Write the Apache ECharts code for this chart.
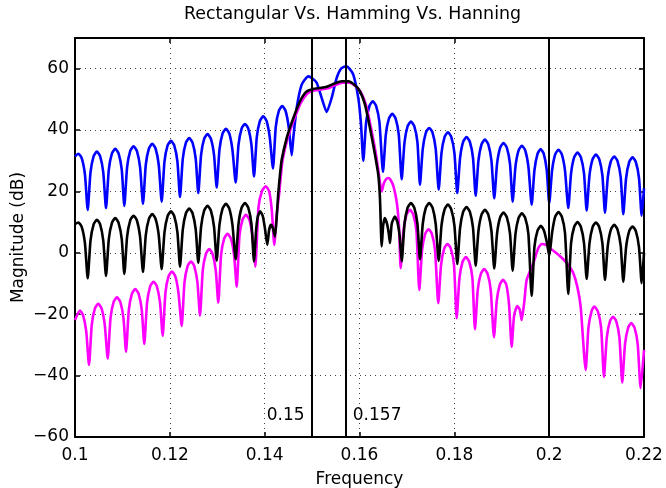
<!DOCTYPE html>
<html>
<head>
<meta charset="utf-8">
<script src="https://cdn.jsdelivr.net/npm/echarts@6/dist/echarts.min.js"></script>
<style>html,body{margin:0;padding:0;background:#fff;}#chart{width:666px;height:488px;}</style>
</head>
<body>
<div id="chart"></div>
<script>
// ---- data (frequency, magnitude dB) ----
const rectangular = [
[0.1000,31.4],[0.1007,32.3],[0.10143,30.8],[0.10210,25.5],[0.10268,14.0],
[0.10327,26.2],[0.10393,31.5],[0.10461,33.0],[0.10530,31.5],[0.10596,26.2],[0.10654,14.6],
[0.10713,27.1],[0.10779,32.4],[0.10849,33.9],[0.10919,32.4],[0.10986,27.1],[0.11040,15.3],
[0.11099,27.9],[0.11165,33.2],[0.11235,34.7],[0.11305,33.2],[0.11372,27.9],[0.11434,16.0],
[0.11493,28.7],[0.11559,34.0],[0.11629,35.5],[0.11699,34.0],[0.11766,28.7],[0.11828,16.7],
[0.11887,29.7],[0.11953,35.0],[0.12023,36.5],[0.12093,35.0],[0.12160,29.7],[0.12214,18.2],
[0.12273,30.6],[0.12339,35.9],[0.12409,37.4],[0.12479,35.9],[0.12546,30.6],[0.12600,19.5],
[0.12659,31.9],[0.12725,37.2],[0.12795,38.7],[0.12865,37.2],[0.12932,31.9],[0.12988,21.3],
[0.13047,33.6],[0.13113,38.9],[0.13183,40.4],[0.13253,38.9],[0.13320,33.6],[0.13389,22.9],
[0.13448,35.2],[0.13514,40.5],[0.13584,42.0],[0.13654,40.5],[0.13721,35.2],[0.13775,24.9],
[0.13834,37.7],[0.13900,43.0],[0.13970,44.5],[0.14040,43.0],[0.14107,37.7],[0.14175,27.5],
[0.14234,41.0],[0.14300,46.3],[0.14370,47.8],[0.14440,46.3],[0.14507,41.0],[0.14570,31.8],
[0.14604,37.5],[0.14675,47.2],[0.14781,54.8],[0.14920,57.5],[0.15008,56.8],[0.15097,55.4],
[0.15202,50.5],[0.15308,45.9],[0.15413,50.5],[0.15519,57.0],[0.15609,60.0],[0.15715,60.8],
[0.15777,60.2],[0.15869,58.1],[0.15974,50.5],[0.16031,42.0],[0.16080,30.0],
[0.16140,42.6],[0.16210,47.9],[0.16280,49.4],[0.16350,47.9],[0.16420,42.6],[0.16495,26.4],
[0.16555,38.5],[0.16621,43.8],[0.16691,45.3],[0.16761,43.8],[0.16828,38.5],[0.16890,24.0],
[0.16949,36.0],[0.17015,41.3],[0.17085,42.8],[0.17155,41.3],[0.17222,36.0],[0.17275,22.2],
[0.17334,33.9],[0.17400,39.2],[0.17470,40.7],[0.17540,39.2],[0.17607,33.9],[0.17670,20.6],
[0.17729,32.5],[0.17795,37.8],[0.17865,39.3],[0.17935,37.8],[0.18002,32.5],[0.18062,19.5],
[0.18121,30.9],[0.18187,36.2],[0.18257,37.7],[0.18327,36.2],[0.18394,30.9],[0.18450,18.6],
[0.18509,30.1],[0.18575,35.4],[0.18645,36.9],[0.18715,35.4],[0.18782,30.1],[0.18842,17.8],
[0.18901,29.0],[0.18967,34.3],[0.19037,35.8],[0.19107,34.3],[0.19174,29.0],[0.19230,16.7],
[0.19289,28.1],[0.19355,33.4],[0.19425,34.9],[0.19495,33.4],[0.19562,28.1],[0.19631,15.7],
[0.19690,27.0],[0.19756,32.3],[0.19820,33.8],[0.19885,32.3],[0.19948,27.0],[0.20002,16.2],
[0.20061,26.8],[0.20127,32.1],[0.20197,33.6],[0.20267,32.1],[0.20334,26.8],[0.20403,14.6],
[0.20462,25.9],[0.20528,31.2],[0.20598,32.7],[0.20668,31.2],[0.20735,25.9],[0.20791,13.8],
[0.20850,25.2],[0.20916,30.5],[0.20986,32.0],[0.21056,30.5],[0.21123,25.2],[0.21177,13.1],
[0.21236,24.6],[0.21302,29.9],[0.21372,31.4],[0.21442,29.9],[0.21509,24.6],[0.21563,12.6],
[0.21622,24.3],[0.21688,29.6],[0.21758,31.1],[0.21828,29.6],[0.21895,24.3],[0.21951,12.1],
[0.22000,21.0]
];
const hamming = [
[0.1000,9.4],[0.1007,9.9],[0.10143,8.4],[0.10210,3.1],[0.10268,-8.3],
[0.10327,4.0],[0.10393,9.3],[0.10461,10.8],[0.10530,9.3],[0.10596,4.0],[0.10654,-7.5],
[0.10713,4.5],[0.10779,9.8],[0.10849,11.3],[0.10919,9.8],[0.10986,4.5],[0.11040,-6.9],
[0.11099,5.3],[0.11165,10.6],[0.11235,12.1],[0.11305,10.6],[0.11372,5.3],[0.11434,-6.2],
[0.11493,5.8],[0.11559,11.1],[0.11629,12.6],[0.11699,11.1],[0.11766,5.8],[0.11828,-5.3],
[0.11887,6.7],[0.11953,12.0],[0.12023,13.5],[0.12093,12.0],[0.12160,6.7],[0.12214,-4.5],
[0.12273,7.6],[0.12339,12.9],[0.12409,14.4],[0.12479,12.9],[0.12546,7.6],[0.12600,-3.2],
[0.12659,8.5],[0.12725,13.8],[0.12795,15.3],[0.12865,13.8],[0.12932,8.5],[0.12988,-2.5],
[0.13047,9.2],[0.13113,14.5],[0.13183,16.0],[0.13253,14.5],[0.13320,9.2],[0.13389,-2.1],
[0.13448,9.4],[0.13514,14.7],[0.13584,16.2],[0.13654,14.7],[0.13721,9.4],[0.13775,-2.8],
[0.13820,7.5],[0.13858,12.0],[0.13905,13.5],[0.13960,12.0],[0.14010,7.5],[0.14055,2.6],
[0.14095,7.5],[0.14133,9.1],[0.14175,8.0],[0.14218,5.3],
[0.14260,13.0],[0.14287,19.5],[0.14323,25.4],[0.14359,30.3],[0.14464,37.4],[0.14604,43.9],
[0.14745,49.4],[0.14886,52.6],[0.15025,53.4],[0.15167,53.7],[0.15308,54.1],[0.15447,55.0],
[0.15624,55.9],[0.15763,55.9],[0.15905,54.6],[0.16010,52.6],[0.16116,48.3],[0.16221,40.7],
[0.16326,32.0],[0.16396,25.4],[0.16431,18.0],[0.16468,2.1],
[0.16500,9.0],[0.16537,11.3],[0.16580,9.5],[0.16615,6.5],[0.16643,3.2],
[0.16680,9.5],[0.16748,11.8],[0.16800,10.0],[0.16850,5.0],[0.16890,-2.8],
[0.16949,9.4],[0.17015,14.7],[0.17085,16.2],[0.17155,14.7],[0.17222,9.4],[0.17275,-2.1],
[0.17334,9.4],[0.17400,14.7],[0.17470,16.2],[0.17540,14.7],[0.17607,9.4],[0.17670,-2.6],
[0.17729,8.9],[0.17795,14.2],[0.17865,15.7],[0.17935,14.2],[0.18002,8.9],[0.18062,-3.6],
[0.18121,8.1],[0.18187,13.4],[0.18257,14.9],[0.18327,13.4],[0.18394,8.1],[0.18450,-4.2],
[0.18509,7.2],[0.18575,12.5],[0.18645,14.0],[0.18715,12.5],[0.18782,7.2],[0.18842,-5.1],
[0.18901,6.3],[0.18967,11.6],[0.19037,13.1],[0.19107,11.6],[0.19174,6.3],[0.19230,-5.8],
[0.19289,6.1],[0.19355,11.4],[0.19425,12.9],[0.19495,11.4],[0.19562,6.1],[0.19631,-14.0],
[0.19690,2.0],[0.19756,7.3],[0.19826,8.8],[0.19890,7.3],[0.19950,3.5],[0.20002,-1.0],
[0.20061,6.5],[0.20127,11.8],[0.20197,13.3],[0.20267,11.8],[0.20334,6.5],[0.20403,-13.4],
[0.20462,3.2],[0.20528,8.5],[0.20598,10.0],[0.20668,8.5],[0.20735,3.2],[0.20791,-8.5],
[0.20850,3.1],[0.20916,8.4],[0.20986,9.9],[0.21056,8.4],[0.21123,3.1],[0.21177,-8.8],
[0.21236,2.3],[0.21302,7.6],[0.21372,9.1],[0.21442,7.6],[0.21509,2.3],[0.21563,-9.4],
[0.21622,1.8],[0.21688,7.1],[0.21758,8.6],[0.21828,7.1],[0.21895,1.8],[0.21951,-9.9],
[0.22000,0.0]
];
const hanning = [
[0.1000,-21.9],[0.10105,-18.8],[0.10170,-20.3],[0.10237,-25.6],[0.10295,-36.5],
[0.10354,-23.4],[0.10420,-18.1],[0.10490,-16.6],[0.10560,-18.1],[0.10627,-23.4],[0.10690,-34.4],
[0.10749,-21.3],[0.10815,-16.0],[0.10885,-14.5],[0.10955,-16.0],[0.11022,-21.3],[0.11076,-32.2],
[0.11135,-18.6],[0.11201,-13.3],[0.11271,-11.8],[0.11341,-13.3],[0.11408,-18.6],[0.11461,-29.7],
[0.11520,-16.2],[0.11586,-10.9],[0.11656,-9.4],[0.11726,-10.9],[0.11793,-16.2],[0.11849,-27.0],
[0.11908,-12.9],[0.11974,-7.6],[0.12044,-6.1],[0.12114,-7.6],[0.12181,-12.9],[0.12250,-23.8],
[0.12309,-9.6],[0.12375,-4.3],[0.12445,-2.8],[0.12515,-4.3],[0.12582,-9.6],[0.12636,-20.4],
[0.12695,-5.6],[0.12761,-0.3],[0.12831,1.2],[0.12901,-0.3],[0.12968,-5.6],[0.13022,-16.2],
[0.13081,-0.6],[0.13147,4.7],[0.13217,6.2],[0.13287,4.7],[0.13354,-0.6],[0.13410,-11.0],
[0.13469,5.6],[0.13535,10.9],[0.13605,12.4],[0.13675,10.9],[0.13742,5.6],[0.13802,-4.5],
[0.13870,14.9],[0.13945,20.2],[0.14025,21.7],[0.14095,20.0],[0.14150,14.0],[0.14203,2.6],
[0.14250,12.0],[0.14307,19.5],[0.14343,25.4],[0.14379,30.3],[0.14484,37.4],[0.14624,43.6],
[0.14765,48.9],[0.14906,52.0],[0.15045,52.9],[0.15187,53.2],[0.15328,53.6],[0.15467,54.5],
[0.15644,55.4],[0.15783,55.4],[0.15925,54.2],[0.16030,52.3],[0.16136,48.2],[0.16241,40.8],
[0.16346,32.2],[0.16400,26.5],[0.16440,22.0],[0.16468,20.0],
[0.16510,22.5],[0.16560,24.0],[0.16607,24.4],[0.16650,23.9],[0.16720,21.5],[0.16790,16.0],[0.16835,8.0],[0.16868,-5.0],
[0.16927,7.2],[0.16993,12.5],[0.17065,14.0],[0.17133,12.5],[0.17200,7.2],[0.17261,-12.1],
[0.17320,0.9],[0.17386,6.2],[0.17455,7.7],[0.17526,6.2],[0.17593,0.9],[0.17661,-16.4],
[0.17720,-3.9],[0.17786,1.4],[0.17856,2.9],[0.17926,1.4],[0.17993,-3.9],[0.18049,-21.3],
[0.18108,-8.2],[0.18174,-2.9],[0.18244,-1.4],[0.18314,-2.9],[0.18381,-8.2],[0.18435,-24.9],
[0.18494,-12.1],[0.18560,-6.8],[0.18630,-5.3],[0.18700,-6.8],[0.18767,-12.1],[0.18836,-27.5],
[0.18895,-15.6],[0.18961,-10.3],[0.19025,-8.8],[0.19095,-10.3],[0.19155,-17.0],[0.19209,-30.6],
[0.19260,-20.5],[0.19327,-17.3],[0.19380,-18.5],[0.19420,-21.9],[0.19475,-16.0],[0.19526,-8.8],
[0.19665,-3.4],[0.19770,1.5],[0.19842,2.9],[0.19932,2.6],[0.20017,1.5],[0.20158,-0.1],
[0.20298,-2.1],[0.20403,-3.9],[0.20508,-6.6],[0.20593,-11.0],[0.20664,-17.5],[0.20770,-38.2],
[0.20829,-24.3],[0.20895,-19.0],[0.20950,-17.5],[0.21025,-19.0],[0.21095,-24.3],[0.21156,-40.4],
[0.21215,-27.6],[0.21281,-22.3],[0.21345,-20.8],[0.21415,-22.3],[0.21482,-27.6],[0.21541,-42.2],
[0.21600,-29.7],[0.21666,-24.4],[0.21730,-22.9],[0.21800,-24.4],[0.21867,-29.7],[0.21929,-44.1],
[0.22000,-31.6]
];
const markerFreqs = [0.15, 0.157, 0.2];
const markerTexts = [
  {text: '0.15', f: 0.15, db: -53, side: 'left'},
  {text: '0.157', f: 0.157, db: -53, side: 'right'}
];
const xTickRange = {min: 0.1, max: 0.22, step: 0.02};
const yTickRange = {min: -60, max: 70, step: 20};

// ---- chart ----
const FONT = 'DejaVu Sans';
const FS = 17;
const chart = echarts.init(document.getElementById('chart'), null, {renderer: 'canvas'});
const fmtX = v => String(Number(v.toFixed(3)));
const fmtY = v => (v === 70 ? '' : (v < 0 ? '\u2212' + Math.abs(v) : String(v)));
const axisLine = {show: true, onZero: false, lineStyle: {color: '#000', width: 2}};
const tick = {show: true, inside: true, length: 5, lineStyle: {color: '#000', width: 1.5}};
const grid = {show: true, lineStyle: {color: '#444', width: 1, type: [1, 4]}};
const lab = {color: '#000', fontSize: FS, fontFamily: FONT};
const SMOOTH = 0.2;

chart.setOption({
  animation: false,
  backgroundColor: '#fff',
  graphic: [{
    type: 'text', left: 184, top: 6, silent: true,
    style: {text: 'Rectangular Vs. Hamming Vs. Hanning', fill: '#000', fontSize: 17.4, fontFamily: FONT}
  }],
  grid: {left: 75, right: 22, top: 38, bottom: 51, containLabel: false, outerBoundsMode: 'none'},
  xAxis: [
    {type: 'value', position: 'bottom', min: xTickRange.min, max: xTickRange.max, interval: xTickRange.step,
     axisLine: axisLine, axisTick: tick, splitLine: grid,
     axisLabel: Object.assign({formatter: fmtX, margin: 10}, lab),
     name: 'Frequency', nameLocation: 'middle', nameGap: 34, nameMoveOverlap: false,
     nameTextStyle: lab},
    {type: 'value', position: 'top', min: xTickRange.min, max: xTickRange.max, interval: xTickRange.step,
     axisLine: axisLine, axisTick: tick, splitLine: {show: false}, axisLabel: {show: false}}
  ],
  yAxis: [
    {type: 'value', position: 'left', min: yTickRange.min, max: yTickRange.max, interval: yTickRange.step,
     axisLine: axisLine, axisTick: tick, splitLine: grid,
     axisLabel: Object.assign({formatter: fmtY, margin: 6}, lab),
     name: 'Magnitude (dB)', nameLocation: 'middle', nameGap: 48, nameMoveOverlap: false,
     nameTextStyle: lab},
    {type: 'value', position: 'right', min: yTickRange.min, max: yTickRange.max, interval: yTickRange.step,
     axisLine: axisLine, axisTick: tick, splitLine: {show: false}, axisLabel: {show: false}}
  ],
  series: [
    {name: 'Rectangular', type: 'line', data: rectangular, showSymbol: false, symbol: 'none', smooth: SMOOTH,
     lineStyle: {color: '#0000ff', width: 2.6}, itemStyle: {color: '#0000ff'}, z: 3},
    {name: 'Hanning', type: 'line', data: hanning, showSymbol: false, symbol: 'none', smooth: SMOOTH,
     lineStyle: {color: '#ff00ff', width: 2.6}, itemStyle: {color: '#ff00ff'}, z: 4},
    {name: 'Hamming', type: 'line', data: hamming, showSymbol: false, symbol: 'none', smooth: SMOOTH,
     lineStyle: {color: '#000000', width: 2.6}, itemStyle: {color: '#000'}, z: 5,
     markLine: {silent: true, precision: 6, symbol: ['none', 'none'], label: {show: false},
       lineStyle: {color: '#000', width: 2, type: 'solid'},
       data: markerFreqs.map(v => ({xAxis: v}))},
     markPoint: {silent: true, symbol: 'circle', symbolSize: 1, itemStyle: {color: 'rgba(0,0,0,0)'},
       data: markerTexts.map(m => ({name: m.text, coord: [m.f, m.db],
         label: {show: true, formatter: '{b}', position: m.side, distance: 7,
                 color: '#000', fontSize: FS, fontFamily: FONT}}))}}
  ]
});
</script>
</body>
</html>
